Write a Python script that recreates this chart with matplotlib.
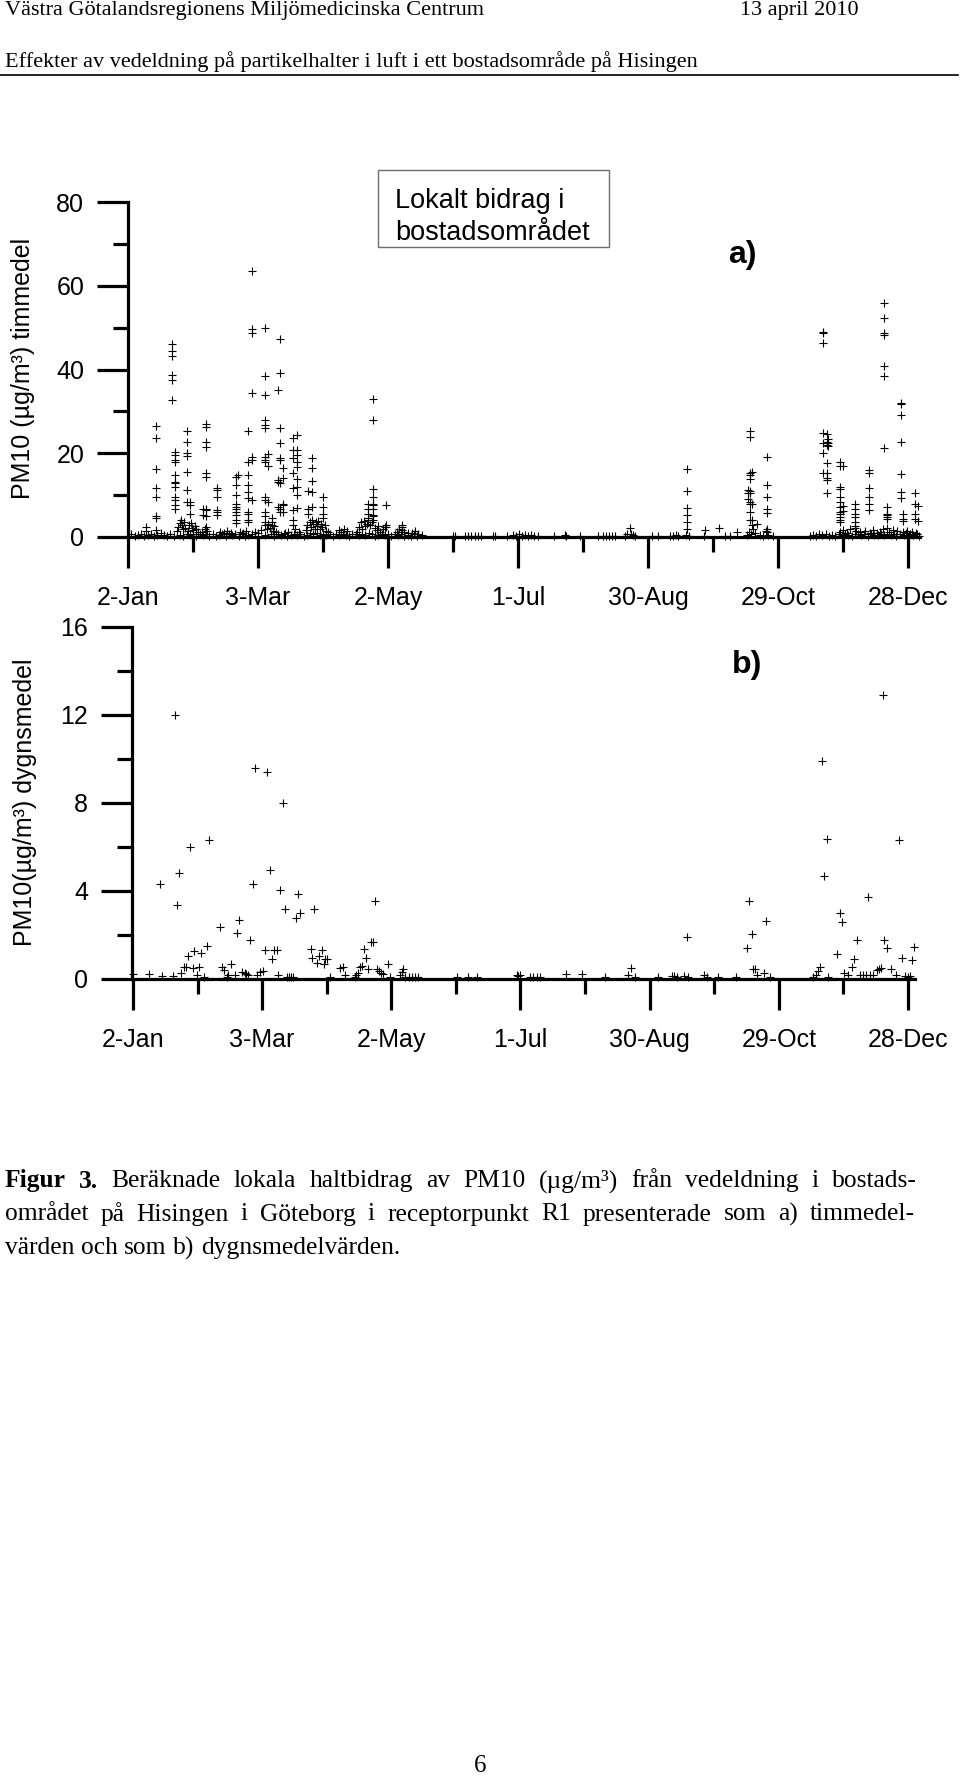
import matplotlib
matplotlib.use('Agg')
import matplotlib.pyplot as plt
from matplotlib.patches import Rectangle
from matplotlib.lines import Line2D

plt.rcParams['font.family'] = ['Liberation Sans', 'DejaVu Sans']

# ---- data (day of year) ----
tick_days = [2, 62, 122, 182, 242, 302, 362]
tick_labels = ['2-Jan', '3-Mar', '2-May', '1-Jul', '30-Aug', '29-Oct', '28-Dec']
minor_days = [32, 92, 152, 212, 272, 332]

# hourly values, a) : episodes as columns (day, hourly values)
hour_col_day = [14.9, 22.2, 23.7, 29.1, 30.6, 36.8, 38.0, 43.2, 51.8, 52.9,
                57.5, 59.1, 65.2, 66.5, 68.3, 71.1, 72.2, 73.4, 78.3, 80.1,
                85.2, 87.1, 92.1, 112.9, 115.2, 121.0, 128.3,
                260.1, 268.3, 274.9, 288.0, 289.1, 289.8, 296.8,
                322.9, 324.4, 325.2, 330.6, 332.1, 337.5, 344.0, 351.1, 352.4,
                358.8, 359.8, 365.3, 366.4]
hour_col_vals = [
    [26.6, 23.6, 16.2, 11.6, 9.6, 5.0, 4.5, 1.7],
    [46.0, 44.5, 43.2, 38.7, 37.5, 32.6],
    [20.4, 19.6, 18.4, 18.0, 14.8, 13.2, 12.8, 12.0, 9.6, 8.8, 7.6, 6.8],
    [25.3, 22.8, 20.1, 19.3, 15.6, 11.2, 8.4],
    [8.4, 7.6, 5.6],
    [6.8, 5.2],
    [26.9, 26.3, 22.8, 21.6, 15.2, 14.4, 6.8, 6.4, 4.9, 2.5],
    [11.6, 11.2, 9.6, 6.4, 6.0, 5.2],
    [14.4, 12.4, 10.0, 8.0, 7.2, 6.8, 6.0, 5.2, 4.1, 3.3],
    [14.8],
    [25.2, 18.0, 14.8, 12.4, 10.8, 9.2, 6.0, 5.6, 4.1, 3.7],
    [63.5, 49.6, 48.8, 34.3, 19.2, 18.5, 8.8],
    [49.8, 38.4, 33.8, 27.9, 26.7, 26.0, 19.2, 18.5, 17.8, 9.6, 8.8, 6.0, 4.9, 3.7, 2.9],
    [19.9, 17.0, 8.4],
    [4.5, 3.7, 2.9],
    [35.1, 13.6, 13.2, 7.2],
    [47.2, 39.1, 26.0, 22.4, 18.8, 18.4, 12.8, 6.8, 6.0],
    [16.4, 14.0, 8.0, 7.6, 6.0],
    [23.6, 20.8, 18.8, 15.2, 11.6, 6.4, 4.1, 2.9],
    [24.4, 20.8, 19.6, 18.0, 16.8, 13.8, 12.0, 10.0, 6.9],
    [11.0, 6.8, 5.6],
    [18.9, 16.4, 13.4, 10.8, 7.2],
    [9.6, 7.2, 5.6, 4.5],
    [8.0, 6.8, 5.6, 4.5, 4.1],
    [32.9, 27.9, 11.4, 9.6, 8.0, 7.6, 6.8, 5.2, 4.9, 4.1],
    [7.6, 2.9, 2.5],
    [2.9, 2.5, 1.7],
    [16.2, 11.0, 7.0, 5.3, 3.7, 1.8],
    [1.7],
    [2.1],
    [11.3, 10.5, 9.0],
    [25.3, 23.8, 15.4, 14.8, 13.8, 11.1, 10.4, 8.4, 7.9, 6.0, 4.1],
    [15.6, 8.0, 4.1, 2.9],
    [19.0, 12.3, 9.6, 6.6, 5.8, 1.8, 1.3],
    [49.0, 48.6, 46.3, 24.8, 22.4, 20.1, 15.2],
    [24.6, 22.8, 22.0, 17.6, 15.4, 14.0, 13.6, 10.6],
    [23.3, 22.4, 21.8],
    [18.0, 17.0, 12.0, 11.4, 9.6, 8.4, 7.2, 6.0, 5.6, 4.8, 4.1, 3.7],
    [16.9, 7.3, 6.1],
    [8.0, 6.8, 5.6, 4.7, 3.7, 2.6, 2.1],
    [16.0, 15.2, 11.6, 9.6, 7.9, 6.4],
    [55.8, 52.2, 48.6, 48.2, 40.8, 38.5, 21.3],
    [7.2, 5.6, 5.3, 4.8, 4.2, 2.1],
    [32.1, 31.8, 29.1, 22.8, 15.0, 10.8, 9.2],
    [5.6, 4.2, 3.9],
    [10.6, 7.9, 5.6, 4.2],
    [7.4, 3.9],
]

# hourly values near zero (dense band) and small clusters
hour_low_day = [
    2, 3.5, 5, 6.5, 8, 9.5, 10.2, 10.5, 11, 12.5, 14, 15.5, 17, 18.5, 20, 21.5,
    23, 24.5, 25.2, 25.8, 26, 26.3, 26.8, 27.3, 27.5, 27.9, 28.4, 29, 29.6, 30.2,
    30.5, 31.0, 31.6, 32, 32.2, 32.9, 33.5, 33.6, 34.4, 35, 36.2, 36.5, 37.4, 38,
    38.6, 39.5, 41, 42.5, 44, 44.5, 45.5, 46.2, 47, 47.8, 48.5, 49.6, 50, 51.5,
    53, 53.5, 54.5, 55.2, 56, 56.4, 57.5, 59, 60.5, 62, 63.5, 65, 66.0, 66.8, 67.4,
    68, 68.9, 69.5, 69.6, 70.3, 71, 72.5, 74, 74.5, 75.5, 76.0, 77, 78.5, 79.0,
    80, 80.8, 81.5, 83, 84.0, 84.5, 84.6, 85.8, 86, 86.3, 86.9, 87.5, 87.6, 88.2,
    88.7, 89, 89.3, 89.9, 90.4, 90.5, 90.9, 91.5, 92, 92.8, 93.4, 93.5, 94.2, 95,
    96.5, 98, 99.2, 99.5, 100.4, 101, 101.6, 102.5, 103.0, 104, 105.5, 107, 107.5,
    108.5, 108.6, 109.4, 110, 110.2, 110.9, 111.5, 111.6, 112.3, 113, 113.6,
    114.5, 114.5, 116, 116.0, 116.8, 117.5, 117.6, 118.5, 119, 119.6, 120.5,
    120.5, 122, 123.5, 125, 126.2, 126.5, 127.2, 128, 129.4, 129.5, 131, 131.0,
    132.5, 133.0, 134, 134.5, 135.5, 136.0, 137.5,
    152.1, 153, 157.5, 159, 160.5, 162, 163.5, 165, 170.5, 171.5, 176.8, 179.7,
    181, 182.5, 184, 185, 186.5, 188, 189.5, 191, 198.7, 203.7, 204.2, 210.6,
    219, 221, 222.5, 224, 225.5, 226.8, 231.5, 232.5, 233.7, 234.2, 235, 236,
    244, 246.6, 252, 253.5, 255, 256, 259.5, 261, 267.8, 277.5, 280, 282.9,
    287.7, 288.5, 289.5, 290.5, 291.5, 292.5, 293.5, 295, 296.5, 297.5, 299.5,
    316.8, 318, 319.5, 321, 322.5, 324, 325.5, 327, 328.5, 330, 330.5, 331.5,
    332, 333, 334, 334.5, 335, 336, 337.5, 338, 339, 340, 340.5, 341.5, 342,
    343.5, 344.5, 345, 346, 346.5, 347.5, 348, 349, 349.5, 350.5, 351, 352.5,
    353, 354, 355, 355.5, 356.5, 357, 358.5, 359.5, 360, 361, 361.5, 362.5, 363,
    364, 364.5, 365.5, 366, 367]
hour_low_val = [
    0.3, 0.6, 0.2, 0.5, 0.8, 0.3, 2.5, 1.5, 0.4, 0.7, 0.2, 0.5, 0.9, 0.4, 0.3, 0.6,
    0.2, 1.5, 2.4, 3.3, 0.5, 4.0, 2.8, 1.9, 0.3, 3.6, 2.2, 0.8, 1.4, 2.9,
    0.4, 3.4, 2.1, 0.6, 1.6, 2.6, 0.3, 1.8, 1.2, 0.7, 1.3, 0.4, 2.0, 0.6,
    1.5, 0.3, 0.7, 0.2, 0.5, 1.1, 0.8, 0.9, 0.3, 1.4, 0.6, 1.0, 0.4, 0.7,
    0.3, 1.2, 0.6, 0.9, 0.2, 1.5, 0.5, 0.8, 1.2, 0.9, 1.6, 0.4, 1.8, 3.0, 2.2,
    0.6, 1.5, 0.3, 2.6, 1.3, 0.7, 0.4, 0.6, 1.0, 0.3, 1.3, 0.5, 0.8, 1.8,
    0.4, 1.2, 0.7, 0.3, 1.6, 0.5, 2.8, 3.5, 0.9, 2.4, 4.0, 0.6, 3.1, 2.0,
    3.7, 1.0, 2.6, 3.9, 1.8, 0.5, 3.0, 2.3, 0.8, 2.9, 1.5, 0.4, 1.1, 0.6,
    0.3, 0.7, 1.6, 0.4, 1.2, 0.6, 1.9, 0.5, 1.4, 0.3, 0.6, 0.8, 1.2,
    0.4, 2.4, 3.5, 0.7, 2.0, 3.9, 0.5, 2.6, 3.2, 0.9, 2.8,
    3.7, 0.6, 0.3, 2.2, 1.6, 0.5, 2.7, 1.3, 0.7, 1.8, 2.5,
    0.4, 0.6, 0.3, 0.7, 1.3, 0.4, 1.9, 0.6, 1.2, 0.3, 0.5, 0.9,
    0.3, 1.0, 0.6, 1.5, 0.3, 0.8, 0.4,
    0.3, 0.2, 0.3, 0.2, 0.3, 0.2, 0.3, 0.2, 0.3, 0.2, 0.3, 0.4,
    0.2, 0.6, 0.3, 0.5, 0.2, 0.4, 0.3, 0.2, 0.3, 0.4, 0.2, 0.3,
    0.3, 0.2, 0.3, 0.2, 0.3, 0.2, 0.3, 0.6, 2.1, 0.8, 0.4, 0.2,
    0.3, 0.2, 0.3, 0.2, 0.4, 0.3, 0.5, 0.3, 0.3, 0.3, 0.2, 1.3,
    0.4, 1.2, 0.6, 2.0, 0.9, 3.0, 0.5, 0.3, 1.5, 0.4, 0.2,
    0.3, 0.5, 0.2, 0.6, 0.4, 0.7, 0.3, 0.5, 0.2, 0.6, 1.2, 0.4,
    1.6, 0.7, 1.0, 0.5, 1.8, 0.3, 0.8, 1.4, 0.6, 1.1, 0.4, 0.7, 1.5,
    0.3, 1.0, 0.6, 1.7, 0.5, 0.9, 0.4, 1.3, 0.6, 1.8, 0.5, 0.7,
    1.2, 0.4, 1.6, 0.8, 0.3, 1.4, 0.6, 1.1, 0.4, 0.9, 1.5, 0.5, 0.7,
    1.2, 0.4, 1.0, 0.6, 0.3]

# daily means, b)
daily_day = [
    2.1, 9.4, 14.5, 15.6, 20.4, 21.5, 22.6, 23.5, 24.3, 25.7,
    26.5, 27.4, 28.5, 29.7, 30.5, 31.6, 32.7, 33.6, 34.8, 36.5,
    37.4, 42.4, 43.2, 44.3, 45.5, 46.3, 47.5, 49.4, 50.4, 51.4,
    52.8, 53.8, 54.6, 55.3, 56.3, 57.6, 58.7, 59.8, 61.0, 62.2,
    63.3, 64.4, 65.6, 66.4, 67.5, 68.7, 69.5, 70.3, 71.5, 72.6,
    73.4, 74.5, 75.5, 76.5, 77.6, 78.5, 79.6, 84.5, 85.3, 86.2,
    87.3, 88.4, 89.6, 90.7, 91.2, 92.2, 93.5, 98.1, 99.4, 100.5,
    105.0, 105.8, 106.6, 107.4, 108.5, 109.3, 110.2, 111.3, 112.4, 113.3,
    114.4, 115.5, 116.4, 117.3, 118.3, 120.3, 121.4, 126.0, 126.8, 127.5,
    128.3, 130.0, 131.5, 133.0, 134.4, 152.3, 157.7, 161.6, 180.2, 181.0,
    181.8, 186.4, 187.9, 189.5, 191.0, 203.0, 210.4, 221.2, 232.0, 233.3,
    235.2, 246.0, 252.2, 253.4, 254.5, 258.0, 259.2, 259.9, 267.2, 268.5,
    273.9, 282.0, 287.0, 288.3, 289.4, 290.1, 290.9, 292.0, 295.1, 296.2,
    297.9, 318.0, 319.3, 320.0, 321.1, 322.2, 323.1, 324.2, 325.0, 329.1,
    330.4, 331.2, 332.3, 334.0, 336.1, 337.0, 338.1, 339.7, 341.2, 342.5,
    343.2, 344.5, 345.9, 347.4, 348.5, 349.4, 350.2, 351.0, 352.1, 354.1,
    356.3, 357.9, 359.1, 360.6, 361.8, 363.0, 364.0, 364.9]
daily_val = [
    0.23, 0.23, 4.3, 0.15, 0.15, 12.0, 3.36, 4.8, 0.26, 0.53,
    0.53, 1.05, 6.0, 0.48, 1.29, 0.18, 0.53, 1.17, 0.1, 1.52,
    6.3, 2.38, 0.53, 0.41, 0.1, 0.18, 0.68, 0.18, 2.08, 2.68,
    0.3, 0.28, 0.25, 0.2, 1.77, 4.3, 9.58, 0.2, 0.3, 0.35,
    1.3, 9.4, 4.95, 0.9, 1.3, 1.3, 0.18, 4.05, 8.0, 3.17,
    0.1, 0.08, 0.08, 0.1, 2.76, 3.86, 2.98, 1.36, 0.97, 3.2,
    0.71, 1.05, 1.32, 0.67, 0.9, 0.9, 0.1, 0.48, 0.56, 0.18,
    0.1, 0.18, 0.26, 0.53, 0.58, 1.36, 0.94, 0.44, 1.68, 1.68,
    3.56, 0.45, 0.35, 0.28, 0.23, 0.67, 0.1, 0.18, 0.3, 0.44,
    0.1, 0.08, 0.1, 0.08, 0.1, 0.08, 0.08, 0.08, 0.2, 0.15,
    0.2, 0.08, 0.1, 0.08, 0.1, 0.23, 0.23, 0.1, 0.18, 0.48,
    0.08, 0.08, 0.12, 0.15, 0.1, 0.15, 1.89, 0.08, 0.2, 0.08,
    0.08, 0.08, 1.43, 3.56, 2.03, 0.45, 0.45, 0.18, 0.29, 2.65,
    0.08, 0.08, 0.2, 0.38, 0.56, 9.9, 4.68, 6.35, 0.08, 1.14,
    3.02, 2.6, 0.29, 0.2, 0.53, 0.9, 1.77, 0.18, 0.18, 0.2,
    3.71, 0.18, 0.2, 0.4, 0.45, 0.5, 12.9, 1.77, 1.43, 0.44,
    0.18, 6.3, 0.94, 0.12, 0.1, 0.12, 0.86, 1.47]

W, H = 960, 1779
fig = plt.figure(figsize=(W / 100, H / 100), dpi=100)


def fx(px):
    return px / W


def fy(py):
    return 1 - py / H


def style(ax, major, minor):
    for s in ['top', 'right']:
        ax.spines[s].set_visible(False)
    for s in ['left', 'bottom']:
        ax.spines[s].set_linewidth(2.3)
    ax.set_yticks(major)
    ax.set_yticks(minor, minor=True)
    ax.set_xticks(tick_days)
    ax.set_xticklabels(tick_labels)
    ax.set_xticks(minor_days, minor=True)
    ax.tick_params(which='major', length=22.5, width=2.3, labelsize=18)
    ax.tick_params(which='minor', length=11, width=2.3)
    ax.tick_params(axis='x', which='major', pad=13)
    ax.tick_params(axis='y', which='major', pad=9)


# a) hourly
ax1 = fig.add_axes([fx(128), fy(537), (920 - 128) / W, (537 - 202) / H])
col_x = [d for d, vals in zip(hour_col_day, hour_col_vals) for v in vals]
col_y = [v for vals in hour_col_vals for v in vals]
ax1.plot(hour_low_day, hour_low_val, '+', color='black', ms=5.5, mew=0.8, clip_on=False)
ax1.plot(col_x, col_y, '+', color='black', ms=5.5, mew=0.8, clip_on=False)
ax1.set_xlim(2, 367.5)
ax1.set_ylim(0, 80)
style(ax1, [0, 20, 40, 60, 80], [10, 30, 50, 70])

# b) daily
ax2 = fig.add_axes([fx(131.7), fy(979), (915.1 - 131.7) / W, (979 - 627) / H])
ax2.plot(daily_day, daily_val, '+', color='black', ms=6.2, mew=0.8, clip_on=False)
ax2.set_xlim(1.4, 365.3)
ax2.set_ylim(0, 16)
style(ax2, [0, 4, 8, 12, 16], [2, 6, 10, 14])

# axis titles
fig.text(fx(23), fy(368), 'PM10 (µg/m³) timmedel', rotation=90, ha='center', va='center', fontsize=18)
fig.text(fx(25), fy(802), 'PM10(µg/m³) dygnsmedel', rotation=90, ha='center', va='center', fontsize=18)

# label box
fig.patches.append(Rectangle((fx(378), fy(247)), (609 - 378) / W, (247 - 170) / H,
                             transform=fig.transFigure, fill=False, edgecolor='#6e6e6e', lw=1.0))
fig.text(fx(395), fy(208), 'Lokalt bidrag i', fontsize=19.5, va='baseline', ha='left')
fig.text(fx(395), fy(240.5), 'bostadsområdet', fontsize=19.5, va='baseline', ha='left')
fig.text(fx(742), fy(255), 'a)', fontsize=23, weight='bold', ha='center', va='center')
fig.text(fx(747), fy(665), 'b)', fontsize=23, weight='bold', ha='center', va='center')

# page header
serif = ['Liberation Serif', 'DejaVu Serif']
fig.text(fx(5), fy(10), 'Västra Götalandsregionens Miljömedicinska Centrum', family=serif, fontsize=16, va='center')
fig.text(fx(740), fy(10), '13 april 2010', family=serif, fontsize=16, va='center')
fig.text(fx(5), fy(61.5), 'Effekter av vedeldning på partikelhalter i luft i ett bostadsområde på Hisingen',
         family=serif, fontsize=16, va='center')
fig.lines.append(Line2D([0, fx(958)], [fy(75), fy(75)], transform=fig.transFigure, color='black', lw=1.2))

# caption, justified lines
renderer = fig.canvas.get_renderer()


def caption_line(text, y, x1=None, bold_words=0, size=18.4):
    objs = []
    for i, w in enumerate(text.split(' ')):
        objs.append(fig.text(0, fy(y), w, family=serif, fontsize=size, va='center', ha='left',
                             weight='bold' if i < bold_words else 'normal'))
    widths = [t.get_window_extent(renderer).width for t in objs]
    if x1 is None:
        gap = 0.25 * size * 100 / 72
    else:
        gap = (x1 - 5 - sum(widths)) / (len(objs) - 1)
    x = 5
    for t, w in zip(objs, widths):
        t.set_x(fx(x))
        x += w + gap


caption_line('Figur 3. Beräknade lokala haltbidrag av PM10 (µg/m³) från vedeldning i bostads-', 1181, 917, bold_words=2)
caption_line('området på Hisingen i Göteborg i receptorpunkt R1 presenterade som a) timmedel-', 1214.5, 915)
caption_line('värden och som b) dygnsmedelvärden.', 1248)

fig.text(fx(480), fy(1766), '6', family=serif, fontsize=18, ha='center', va='center')

fig.savefig('out.png', dpi=100)
